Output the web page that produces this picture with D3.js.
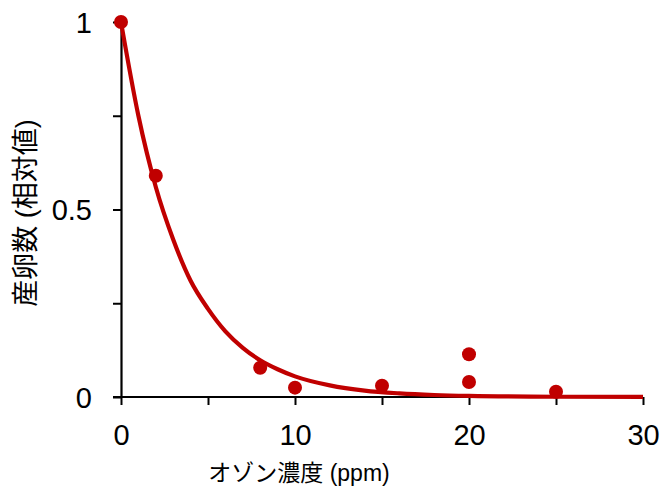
<!DOCTYPE html>
<html>
<head>
<meta charset="utf-8">
<script src="https://cdn.jsdelivr.net/npm/d3@7.9.0/dist/d3.min.js"></script>
<style>
  body { margin: 0; background: #fff; }
  svg text { font-family: "Liberation Sans", Arial, "Noto Sans CJK JP", sans-serif; fill: #000; }
</style>
</head>
<body>
<svg width="662" height="487"></svg>
<script>
// measured points (ozone ppm, relative egg count)
const ozone = [0, 2, 8, 10, 15, 20, 20, 25];
const eggs = [1, 0.59, 0.078, 0.025, 0.03, 0.114, 0.04, 0.014];

// fitted curve
const fitX = [0, 1, 2, 3, 4, 5, 6, 7, 8, 9, 10, 12, 14, 16, 18, 20, 25, 30];
const fitY = [1, 0.75, 0.56, 0.42, 0.31, 0.235, 0.175, 0.131, 0.098, 0.074, 0.055, 0.031, 0.017, 0.0097, 0.0054, 0.003, 0.0007, 0.0002];

const xTicks = [0, 5, 10, 15, 20, 25, 30];
const xLabels = [0, 10, 20, 30];
const yTicks = [0, 0.25, 0.5, 0.75, 1];
const yLabels = [0, 0.5, 1];

const red = '#c00000';
const svg = d3.select('svg');

const x = d3.scaleLinear().domain([0, 30]).range([121, 643]);
const y = d3.scaleLinear().domain([0, 1]).range([397, 22]);

// axes
const xAxis = d3.axisBottom(x).tickValues(xTicks).tickSizeInner(8).tickSizeOuter(0)
  .tickFormat((d) => (xLabels.includes(d) ? d : ''));
const gx = svg.append('g').attr('transform', `translate(0,${y(0)})`).call(xAxis);
gx.select('.domain').attr('stroke', '#000').attr('stroke-width', 2.2)
  .attr('d', `M${x(0) - 8},0H${x(30)}`);
gx.selectAll('.tick line').attr('stroke', '#000').attr('stroke-width', 2);
gx.selectAll('.tick text').attr('font-size', 29).attr('dy', 0).attr('y', 48);

const yAxis = d3.axisLeft(y).tickValues(yTicks).tickSizeInner(8).tickSizeOuter(0)
  .tickFormat((d) => (yLabels.includes(d) ? d : ''));
const gy = svg.append('g').attr('transform', `translate(${x(0)},0)`).call(yAxis);
gy.select('.domain').attr('stroke', '#000').attr('stroke-width', 2.2);
gy.selectAll('.tick line').attr('stroke', '#000').attr('stroke-width', 2);
gy.selectAll('.tick text').attr('font-size', 29).attr('x', -29).attr('dy', '0.36em');

// fitted line
const line = d3.line().x((d) => x(d[0])).y((d) => y(d[1])).curve(d3.curveMonotoneX);
svg.append('path')
  .datum(fitX.map((v, i) => [v, fitY[i]]))
  .attr('d', line)
  .attr('fill', 'none')
  .attr('stroke', red)
  .attr('stroke-width', 4.2);

// points
svg.selectAll('circle.pt')
  .data(ozone.map((v, i) => [v, eggs[i]]))
  .join('circle')
  .attr('class', 'pt')
  .attr('cx', (d) => x(d[0]))
  .attr('cy', (d) => y(d[1]))
  .attr('r', 7)
  .attr('fill', red);

// axis titles
svg.append('text')
  .attr('x', 299).attr('y', 481)
  .attr('text-anchor', 'middle')
  .attr('font-size', 23)
  .text('オゾン濃度 (ppm)');

svg.append('text')
  .attr('transform', 'translate(35,213) rotate(-90)')
  .attr('text-anchor', 'middle')
  .attr('font-size', 27)
  .text('産卵数 (相対値)');
</script>
</body>
</html>
